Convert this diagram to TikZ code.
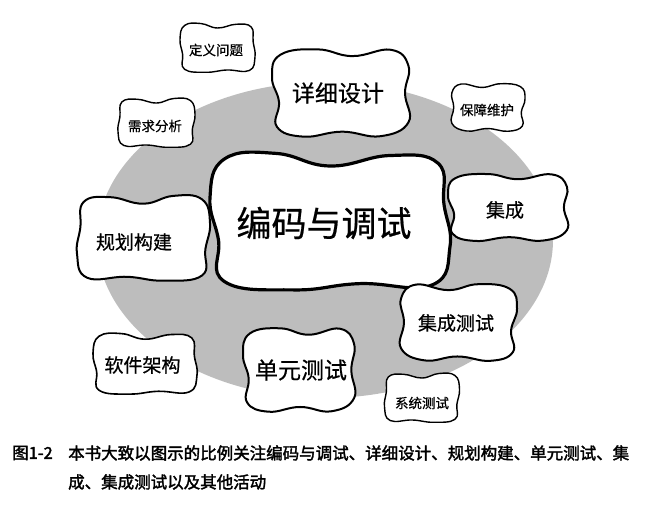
\documentclass[tikz,border=0pt]{standalone}
\usepackage{fontspec}
\newfontfamily\cjk[FakeBold=0.6]{Noto Sans CJK SC}
\newfontfamily\cjkb[FakeBold=2]{Noto Sans CJK SC}
\newcommand\cloudA[5]{%
  \draw[cloudline, line width=#5pt, shift={(#1,#2)}, xscale=#3, yscale=#4]
   plot[smooth cycle, tension=0.75] coordinates {
   (-0.88,-0.90) (-0.45,-0.98) (0.0,-0.80) (0.50,-0.95) (0.90,-0.84)
   (0.95,-0.25) (1.0,0.35) (0.85,0.90) (0.25,0.88) (-0.30,0.97)
   (-0.88,0.85) (-0.93,0.25) (-1.0,-0.35)};}
\newcommand\cloudB[5]{%
  \draw[cloudline, line width=#5pt, shift={(#1,#2)}, xscale=#3, yscale=#4]
   plot[smooth cycle, tension=0.75] coordinates {
   (-0.88,-0.85) (-0.35,-0.97) (0.15,-0.82) (0.70,-0.96) (0.95,-0.60)
   (0.90,0.0) (0.95,0.65) (0.55,0.96) (0.0,0.86) (-0.55,0.97)
   (-0.93,0.75) (-0.90,0.20) (-1.0,-0.35)};}
\begin{document}
\begin{tikzpicture}[x=1pt,y=-1pt,
  cloudline/.style={draw=black, fill=white, line join=round},
  ctext/.style={font=\cjk, inner sep=0pt, anchor=center},
  captext/.style={font=\cjkb\fontsize{16.5}{18}\selectfont, inner sep=0pt, anchor=west},
]
\useasboundingbox[fill=white] (0,0) rectangle (668,506);
% background ellipse
\fill[black!26] (325,240) ellipse [x radius=228, y radius=158];
% clouds
\cloudA{217.5}{48}{37.5}{25}{1.4}
\cloudB{342}{93}{70}{45}{2}
\cloudB{487.5}{107.5}{-37.5}{24.5}{1.4}
\cloudA{156.5}{123}{-38.5}{25}{1.4}
\cloudA{330}{222}{120}{70}{3.2}
\cloudB{509}{207.5}{61}{34.5}{2}
\cloudA{143.5}{238.5}{-66.5}{43.5}{2}
\cloudB{457.5}{322.5}{-59.5}{39.5}{2}
\cloudA{145}{364}{52}{31}{1.6}
\cloudB{300}{370}{57}{43}{2}
\cloudA{422}{398}{-37.5}{25}{1.4}
% texts
\node[ctext, font=\cjk\fontsize{13.5}{15}\selectfont] (dingyi) at (216,50) {定义问题};
\node[ctext, font=\cjk\fontsize{23}{25}\selectfont] (xiangxi) at (338,93) {详细设计};
\node[ctext, font=\cjk\fontsize{13.5}{15}\selectfont] (baozhang) at (487,110) {保障维护};
\node[ctext, font=\cjk\fontsize{13.5}{15}\selectfont] (xuqiu) at (155,126) {需求分析};
\node[ctext, font=\cjk\fontsize{35}{38}\selectfont] (bianma) at (324,223) {编码与调试};
\node[ctext, font=\cjk\fontsize{19}{21}\selectfont] (jicheng) at (505,210) {集成};
\node[ctext, font=\cjk\fontsize{19}{21}\selectfont] (guihua) at (134,242) {规划构建};
\node[ctext, font=\cjk\fontsize{19}{21}\selectfont] (jcceshi) at (456,323) {集成测试};
\node[ctext, font=\cjk\fontsize{19}{21}\selectfont] (ruanjian) at (142.5,365) {软件架构};
\node[ctext, font=\cjk\fontsize{23}{25}\selectfont] (danyuan) at (301,370) {单元测试};
\node[ctext, font=\cjk\fontsize{13.5}{15}\selectfont] (xitong) at (422,403) {系统测试};
% caption
\node[captext] (figno) at (12,453) {图1-2};
\node[captext] (cap1) at (68,453) {本书大致以图示的比例关注编码与调试、详细设计、规划构建、单元测试、集};
\node[captext] (cap2) at (68,482) {成、集成测试以及其他活动};
\end{tikzpicture}
\end{document}
